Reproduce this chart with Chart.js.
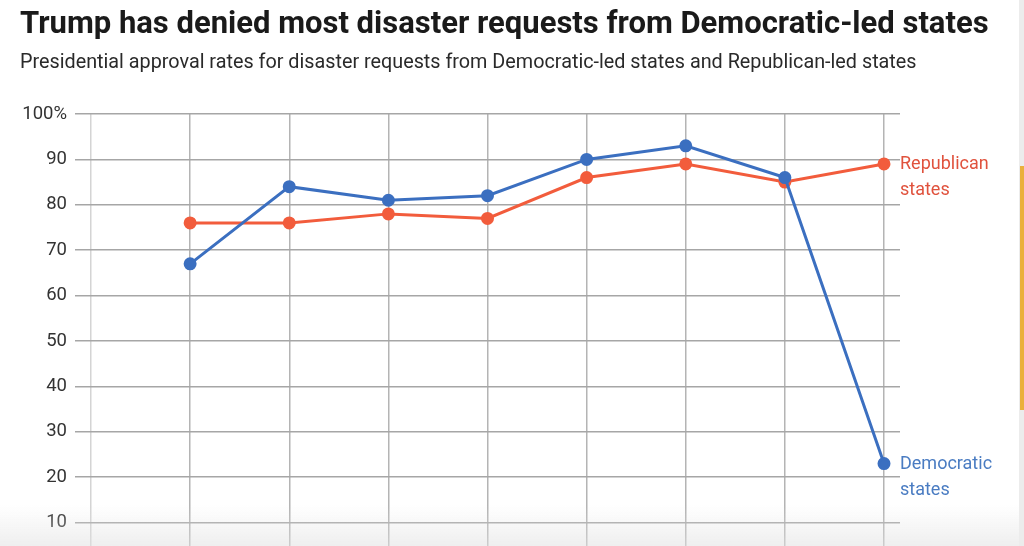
<!DOCTYPE html>
<html>
<head>
<meta charset="utf-8">
<script src="https://cdn.jsdelivr.net/npm/chart.js@4.4.1/dist/chart.umd.min.js"></script>
<style>
  html, body { margin: 0; padding: 0; background: #fff; overflow: hidden; }
  body { width: 1024px; height: 546px; position: relative; }
  #title { position: absolute; left: 20px; top: 4px; font: bold 31px Roboto, sans-serif; color: #1a1a1a; white-space: nowrap; }
  #subtitle { position: absolute; left: 20px; top: 50px; font: 19.8px Roboto, sans-serif; color: #2a2a2a; white-space: nowrap; }
  #wrap { position: absolute; left: 0; top: 0; width: 1024px; height: 620px; }
  #shade { position: absolute; left: 0; top: 505px; width: 1024px; height: 41px; background: linear-gradient(rgba(230,230,230,0), rgba(225,225,225,0.55)); pointer-events: none; }
  #edge { position: absolute; right: 0; top: 0; width: 5px; height: 546px; background: #ececec; }
  #edgeBar { position: absolute; right: 0; top: 166px; width: 4px; height: 244px; background: #eab03c; }
</style>
</head>
<body>
<div id="wrap"><canvas id="myChart"></canvas></div>
<div id="title">Trump has denied most disaster requests from Democratic-led states</div>
<div id="subtitle">Presidential approval rates for disaster requests from Democratic-led states and Republican-led states</div>
<div id="shade"></div>
<div id="edge"></div>
<div id="edgeBar"></div>
<script>
// first slot is an empty column on the left of the chart
const categories = ['', 'P1', 'P2', 'P3', 'P4', 'P5', 'P6', 'P7', 'P8']
const democratic = [null, 67, 84, 81, 82, 90, 93, 86, 23]
const republican = [null, 76, 76, 78, 77, 86, 89, 85, 89]
const yTicks = [10, 20, 30, 40, 50, 60, 70, 80, 90, 100]

const blue = '#3b6fc0'
const orange = '#f25c3c'

const endLabels = {
    id: 'endLabels',
    afterDatasetsDraw(chart) {
        const c = chart.ctx
        const items = [
            { ds: 1, lines: ['Republican', 'states'], color: '#e0523d' },
            { ds: 0, lines: ['Democratic', 'states'], color: '#4a7cc2' }
        ]
        c.save()
        c.font = '18px Roboto, sans-serif'
        c.textBaseline = 'middle'
        c.textAlign = 'left'
        items.forEach(it => {
            const meta = chart.getDatasetMeta(it.ds)
            const pt = meta.data[meta.data.length - 1]
            c.fillStyle = it.color
            it.lines.forEach((l, i) => c.fillText(l, pt.x + 16, pt.y + 1 + i * 26))
        })
        c.restore()
    }
}

const ctx = document.getElementById('myChart')
const chartData = {
    type: 'line',
    data: {
        labels: categories,
        datasets: [{
            label: 'Democratic states',
            data: democratic,
            borderColor: blue,
            backgroundColor: blue,
            borderWidth: 3,
            pointRadius: 5,
            pointHoverRadius: 5,
            tension: 0
        }, {
            label: 'Republican states',
            data: republican,
            borderColor: orange,
            backgroundColor: orange,
            borderWidth: 3,
            pointRadius: 5,
            pointHoverRadius: 5,
            tension: 0
        }]
    },
    options: {
        responsive: true,
        maintainAspectRatio: false,
        animation: false,
        layout: { padding: { top: 114, right: 124, bottom: 52, left: 0 } },
        plugins: {
            legend: { display: false },
            tooltip: { enabled: false }
        },
        scales: {
            x: {
                offset: false,
                ticks: { display: false },
                border: { display: false },
                grid: {
                    color: ctx => ctx.index === 0 ? '#d4d4d4' : '#b4b4b4',
                    lineWidth: 1.5,
                    tickLength: 0
                },
                afterFit: s => { s.height = 0 }
            },
            y: {
                min: 0,
                max: 100,
                afterBuildTicks: s => { s.ticks = yTicks.map(v => ({ value: v })) },
                ticks: {
                    padding: 8,
                    color: '#333',
                    font: { family: 'Roboto, sans-serif', size: 18.5 },
                    callback: v => v === 100 ? '100%' : v
                },
                border: { display: false },
                grid: { color: '#a6a6a6', lineWidth: 1.5, tickLength: 16 },
                afterFit: s => { s.width = 91 }
            },
            y2: {
                position: 'right',
                min: 0,
                max: 100,
                afterBuildTicks: s => { s.ticks = yTicks.map(v => ({ value: v })) },
                ticks: { display: false },
                border: { display: false },
                grid: { color: '#a6a6a6', lineWidth: 1.5, tickLength: 16, drawOnChartArea: false },
                afterFit: s => { s.width = 16 }
            }
        }
    },
    plugins: [endLabels]
}
const myChart = new Chart(ctx, chartData)
</script>
</body>
</html>
